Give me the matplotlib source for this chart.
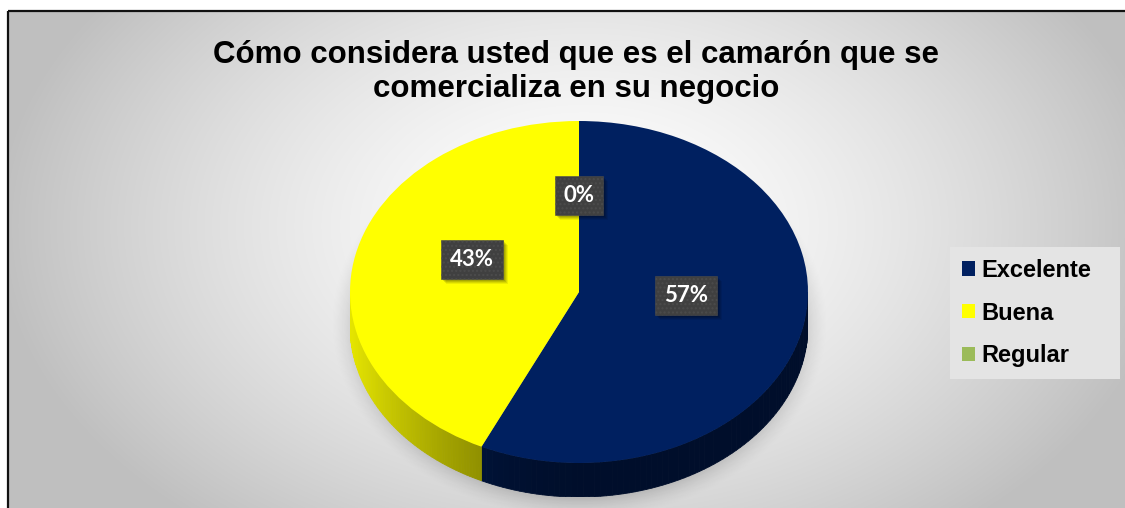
import numpy as np
import matplotlib
matplotlib.use('Agg')
import matplotlib.pyplot as plt
from matplotlib.patches import Patch, Rectangle

# --- data ---
categories = ['Excelente', 'Buena', 'Regular']
values = [57, 43, 0]
pct_labels = ['57%', '43%', '0%']
colors = ['#002060', '#FFFF00', '#9BBB59']
title = 'Cómo considera usted que es el camarón que se\ncomercializa en su negocio'

W, H = 1125, 508
fig = plt.figure(figsize=(W / 100, H / 100), dpi=100)

# background panel in pixel coordinates
bg = fig.add_axes([0, 0, 1, 1])
bg.set_xlim(0, W)
bg.set_ylim(H, 0)
bg.axis('off')

yy, xx = np.mgrid[0:H, 0:W]
d = np.sqrt(((xx - 580) / 640.0) ** 2 + ((yy - 220) / 430.0) ** 2)
shade = np.clip(1.0 - 0.28 * d ** 1.5, 0.75, 1.0)
bg.imshow(np.dstack([shade] * 3), extent=(8, W, H, 10), aspect='auto',
          interpolation='bilinear', zorder=0)

# soft shadow under the pie
ex = np.sqrt(((xx - 579) / 240.0) ** 2 + ((yy - 322) / 190.0) ** 2)
alpha = np.clip(1.0 - (ex - 0.84) / 0.2, 0, 1) ** 1.6 * 0.38
alpha[ex < 0.84] = 0.38
sh = np.zeros((H, W, 4))
sh[..., 3] = alpha
bg.imshow(sh, extent=(0, W, H, 0), aspect='auto', interpolation='bilinear', zorder=1)

# chart border
bg.plot([8, 8], [H, 10.5], color='#111111', lw=1.6, zorder=5, solid_capstyle='butt')
bg.plot([8, W], [10.5, 10.5], color='#111111', lw=1.6, zorder=5, solid_capstyle='butt')

# --- 3D-looking pie ---
cx, cy, rx, ry, depth = 579, 292, 229, 171, 34
dep = depth / ry
pa = fig.add_axes([(cx - rx) / W, (H - (cy + ry + depth)) / H, 2 * rx / W, (2 * ry + depth) / H])
pa.axis('off')

total = float(sum(values))
bounds = 90 - 360 * np.concatenate([[0], np.cumsum(values)]) / total

# side wall, lower half only
for i, col in enumerate(colors):
    a0, a1 = bounds[i], bounds[i + 1]
    lo, hi = max(a1, -180), min(a0, 0)
    if hi <= lo:
        continue
    base = np.array(matplotlib.colors.to_rgb(col))
    steps = np.linspace(hi, lo, 80)
    for s0, s1 in zip(steps[:-1], steps[1:]):
        am = np.radians((s0 + s1) / 2)
        f = 0.45 + 0.45 * max(0.0, -np.cos(am)) ** 1.6
        t = np.radians([s0, s1])
        xs = [np.cos(t[0]), np.cos(t[1]), np.cos(t[1]), np.cos(t[0])]
        ys = [np.sin(t[0]), np.sin(t[1]), np.sin(t[1]) - dep, np.sin(t[0]) - dep]
        pa.fill(xs, ys, color=base * f, lw=0.6, ec=base * f, zorder=2)

wedges, _ = pa.pie(values, colors=colors, startangle=90, counterclock=False,
                   radius=1, wedgeprops=dict(lw=0))
for w in wedges:
    w.set_zorder(3)
pa.set_aspect('auto')
pa.set_xlim(-1, 1)
pa.set_ylim(-1 - dep, 1)

# data labels
mids = (bounds[:-1] + bounds[1:]) / 2
texts = []
for lab, m in zip(pct_labels, mids):
    lx = 0.48 * np.cos(np.radians(m))
    ly = 0.48 * np.sin(np.radians(m)) + 0.085
    box = dict(boxstyle='square,pad=0.4', fc='#404040', ec='#4c4c4c', lw=0.4, hatch='....')
    texts.append(pa.text(lx, ly, lab, ha='center', va='center', color='white', fontsize=16,
                         fontweight='bold', family='Lato', bbox=box, zorder=5))

# soft drop shadows behind the label boxes
fig.canvas.draw()
renderer = fig.canvas.get_renderer()
for t in texts:
    bb = t.get_bbox_patch().get_window_extent(renderer)
    for ox, a in [(5, 0.07), (4, 0.09), (3, 0.11), (2, 0.12)]:
        r = Rectangle((bb.x0 + ox, bb.y0 - ox), bb.width, bb.height, transform=None,
                      fc='black', ec='none', alpha=a, zorder=4.5, clip_on=False)
        pa.add_artist(r)

# title
fig.text(576 / W, 1 - 72 / H, title, ha='center', va='center', fontsize=22.5,
         fontweight='bold', family='Liberation Sans', linespacing=1.2)

# legend
handles = [Patch(fc=c, ec='none') for c in colors]
leg = fig.legend(handles, categories, loc='upper left',
                 bbox_to_anchor=(950 / W, 1 - 377 / H, 170 / W, 130 / H), mode='expand',
                 borderaxespad=0, frameon=True, fancybox=False,
                 handlelength=0.56, handleheight=0.56, handletextpad=0.28,
                 labelspacing=0.84, borderpad=0.5,
                 prop=dict(family='Liberation Sans', weight='bold', size=17))
leg.get_frame().set_facecolor('#e4e4e4')
leg.get_frame().set_edgecolor('none')
leg.get_frame().set_alpha(1)

fig.savefig('out.png', dpi=100)
